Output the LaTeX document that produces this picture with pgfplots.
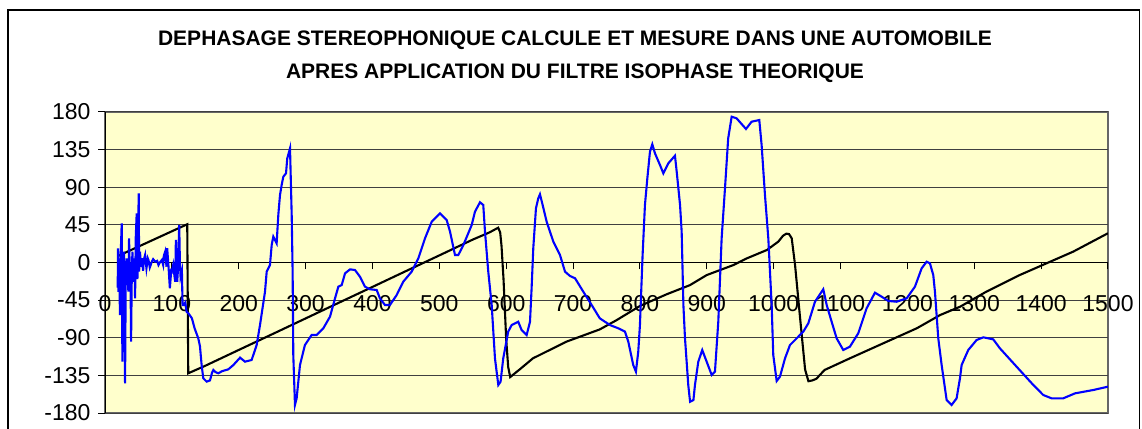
\documentclass[border=0pt]{standalone}
\usepackage{fontspec}
\setmainfont{Liberation Sans}
\usepackage{pgfplots}
\pgfplotsset{compat=1.18}
\definecolor{plotbg}{RGB}{255,255,204}
\definecolor{bluecurve}{RGB}{0,0,255}
\begin{document}
\begin{tikzpicture}[x=1pt,y=1pt]
\useasboundingbox (0,0) rectangle (1142,428);
\fill[white] (0,0) rectangle (1142,428);
\draw[black, line width=1.3pt] (8,-5) -- (8,418) -- (1139.5,418) -- (1139.5,-5);
\node[font=\fontsize{21}{25}\selectfont\bfseries, anchor=base, inner sep=0pt] at (575,382) {DEPHASAGE STEREOPHONIQUE CALCULE ET MESURE DANS UNE AUTOMOBILE};
\node[font=\fontsize{21}{25}\selectfont\bfseries, anchor=base, inner sep=0pt] at (575,349.5) {APRES APPLICATION DU FILTRE ISOPHASE THEORIQUE};
\begin{axis}[
  at={(105pt,15pt)}, anchor=south west, scale only axis,
  width=1003pt, height=301pt,
  xmin=0, xmax=1500, ymin=-180, ymax=180,
  axis x line=middle, axis y line=left,
  axis line style={black, line width=1pt, -},
  axis background/.style={fill=plotbg, draw=black!60, line width=1.2pt},
  xtick={0,100,...,1500}, ytick={-180,-135,...,180},
  hide obscured x ticks=false, hide obscured y ticks=false,
  ymajorgrids, major grid style={black!75, line width=1pt},
  tick align=outside, major tick length=7pt,
  tick style={black, line width=1pt},
  ticklabel style={font=\fontsize{23}{27}\selectfont},
  /pgf/number format/assume math mode=true,
  /pgf/number format/1000 sep={},
  xticklabel style={anchor=center, yshift=-34.5pt},
  yticklabel style={anchor=east, xshift=-4pt},
]
\addplot[black, line width=2.1pt] coordinates {
(20,8)(50,19)(80,30)(110,41)(123,45.7)(124.5,-132.5)(150,-123.5)(200,-104.6)
(250,-85.8)(300,-66.9)(350,-48)(400,-29.2)(450,-10.3)(500,8.5)(550,27.4)
(575,36)(588,41.6)(591,36)(593,20)(596,-20)(600,-92)(603,-125)(606,-137)
(620,-128)(640,-114.6)(690,-94.7)(740,-80)(765,-69)(800,-52)(840,-38)
(875,-27)(900,-15)(940,-3)(960,5)(990,15)(1007,25)(1014,32)(1019,34.5)
(1023,34)(1027,29)(1032,-3)(1039,-62)(1047,-128)(1052,-142)(1058,-141)
(1064,-139)(1076,-128.6)(1114,-114.6)(1164,-96.6)(1214,-78.7)(1249,-62.8)
(1279,-52.8)(1318,-34.9)(1368,-15)(1408,-1)(1448,13)(1500,35)
};
\addplot[bluecurve, line width=2.1pt] coordinates {
(19,-30)(19.5,17)(20,-35)(21,5)(22.4,-62.8)(23.5,10)(25,46.8)(26,-118.6)
(27,0)(28.4,12.9)(29,-40)(30,-144.5)(31,-20)(32.4,5)(34,-20)(35,-34.9)
(36,28.9)(37,-10)(38,0)(39,-94.7)(40,-20)(41,12.9)(42,-10)(43.4,-23)(44,5)
(45,-42.9)(46,30)(47.4,58.8)(48.5,-20)(49.5,40)(50.5,82.7)(51,-11)
(52.3,12.9)(54,-5)(55,5)(57,-10)(58,3)(60,9)(62,-7)(64,5)(65,3)(67,-6)
(70,1)(72,4)(75,1)(78,2)(80,-3)(82,0)(85,3)(87,-3)(88,8)(90,13)(92,-5)
(93,17)(95,-5)(97,-30.9)(99,-10)(100,-11)(102,-3)(104,-17)(105,-23)
(106,26.9)(108,-23)(109,-10)(111,44.8)(112,1)(113,-17)(115,-10)(116,-50.8)
(118,-50.8)(120,-48)(122,-58.8)(125,-61)(130,-66.8)(134,-78.7)(139.5,-90.7)
(142,-100)(144.5,-122.6)(147,-138.5)(152,-142.5)(157,-141)(160,-132)
(162,-128.6)(165,-131)(169.5,-132.5)(175,-130)(184.4,-127.8)(192,-122.6)
(202,-113.8)(209.4,-118.6)(219.3,-116.6)(226.8,-98.7)(231.8,-74.8)
(239.3,-34.9)(241.8,-11)(246.7,-3)(249.3,21)(251.7,30.9)(256.7,23)
(259.2,56.8)(261.7,80.7)(264.2,92.7)(266.7,102.6)(270.7,106.7)(272.6,124.6)
(276.7,136.6)(279.2,56.8)(280.6,-11)(281.6,-110.6)(284.1,-170.4)
(286.6,-162.5)(291.6,-122.6)(299,-98.7)(309,-86.7)(316.6,-86.7)
(326.5,-78.7)(336.5,-64.8)(344,-42.9)(349,-28.9)(354,-26.9)(359,-13)
(366.4,-8.2)(373.9,-9)(381.3,-17)(388.8,-28.9)(396.3,-32)(406.3,-32.9)
(411.2,-42.9)(418.7,-50.8)(426.2,-50.8)(436.2,-38.9)(446,-23)(458.6,-11)
(468.6,5)(478.6,28.9)(488.6,48.8)(501,58.8)(511,50.8)(516,36.9)(523.4,9)
(528.4,9)(536,21)(548.4,44.8)(553.3,60.8)(560.8,72)(565.7,68.8)(568.3,36.9)
(573.2,-11)(578.3,-50.8)(583.2,-114.6)(588.2,-146.5)(591.6,-142.5)
(595.6,-114.6)(603,-82.7)(608.2,-74.8)(618,-70.8)(623,-80.7)(630.6,-86.7)
(635.6,-70.8)(638,-30.9)(640.5,17)(644.5,64.8)(648,76.8)(650.5,81.6)
(654.5,68.8)(660.5,48.8)(670.5,24.9)(680.4,9)(688,-11)(695.4,-16.1)
(703,-18.9)(715.3,-34.9)(727.8,-50.8)(740,-66.8)(755.2,-74.8)(767.6,-78.7)
(777.6,-82.7)(782.6,-94.7)(790,-122.6)(794,-130.6)(797.5,-106.7)(800,-74.8)
(804,9)(807.5,68.8)(811,100)(815,132.5)(818.5,141.4)(822.5,130.6)
(830,116.6)(835,106.7)(842.4,118.6)(852.4,127.7)(855,108.6)(860,68.8)
(862.4,36.9)(865,-50.8)(867.4,-90.7)(872.3,-146.5)(875,-166.5)(880,-164.5)
(882.3,-146.5)(887.3,-118.6)(893.2,-104.7)(899.8,-118.6)(907.3,-134.5)
(912.2,-130.6)(917.2,-70.8)(922.2,28.9)(927.2,88.7)(932,148.5)(937.2,174.4)
(944.6,172.4)(958.6,159.7)(967,168.4)(978.5,170.4)(982,140.5)(987,80.7)
(992,28.9)(997,-50.8)(999.4,-110.6)(1004.5,-141.7)(1009.4,-136.6)
(1017,-114.6)(1024.4,-98.7)(1034.4,-90.7)(1044.3,-82.7)(1051.8,-72.8)
(1061.8,-46.9)(1074.2,-32)(1079.3,-50.8)(1086.7,-70.8)(1094.2,-90.7)
(1104.1,-104.7)(1114,-100.7)(1126.5,-84.7)(1139,-54.8)(1151.5,-36.1)
(1161.5,-40.9)(1171.4,-46)(1183.9,-46.9)(1198.9,-42.9)(1211.3,-28.9)
(1221.3,-7)(1228.8,1)(1233.7,-1)(1238.7,-15)(1241.2,-34.9)(1246.2,-90.7)
(1251.2,-122.6)(1256.2,-150.5)(1258.7,-164.5)(1266.1,-170.4)(1273.6,-162.5)
(1278.6,-138.6)(1281.1,-122.6)(1291,-104.7)(1303.5,-92.7)(1313.5,-89.5)
(1328.4,-91.9)(1338.4,-102.7)(1363.3,-124.6)(1388.3,-146.5)(1403.2,-158.5)
(1415.7,-162.5)(1433,-162.5)(1450.6,-156.5)(1478,-152.5)(1500,-148.5)
};
\end{axis}
\end{tikzpicture}
\end{document}
